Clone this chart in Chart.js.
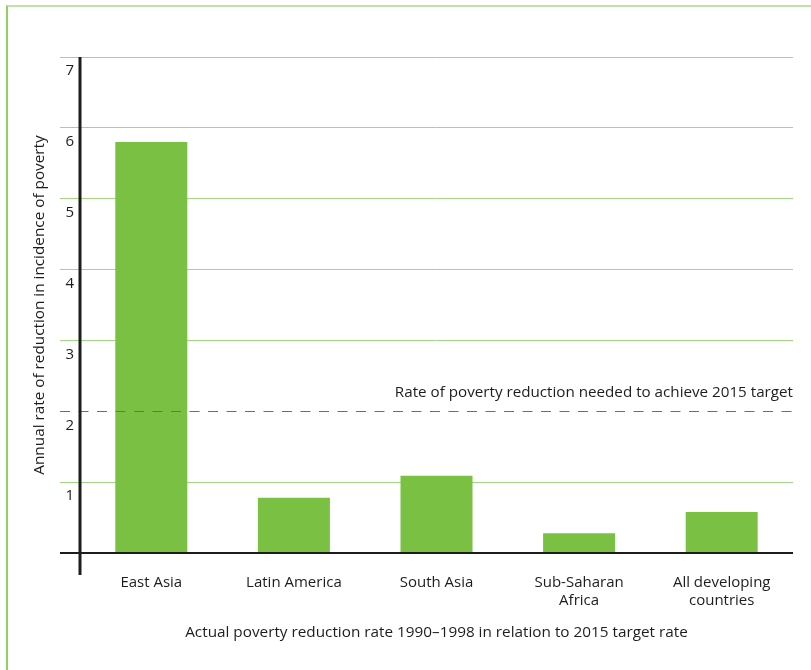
<!DOCTYPE html>
<html>
<head>
<meta charset="utf-8">
<script src="https://cdn.jsdelivr.net/npm/chart.js@4.4.1/dist/chart.umd.min.js"></script>
<style>
  html, body { margin: 0; padding: 0; background: #fff; }
  #wrap { position: relative; width: 811px; height: 670px; overflow: hidden; }
  #frame { position: absolute; left: 6px; top: 5px; right: -2px; bottom: -2px;
           border-left: 2px solid #8fd05e; border-top: 2px solid #bfe3a5; }
  canvas { position: absolute; left: 0; top: 0; }
</style>
</head>
<body>
<div id="wrap">
  <div id="frame"></div>
  <canvas id="povertyChart" width="811" height="670"></canvas>
</div>
<script>
const regions = [
    ['East Asia'],
    ['Latin America'],
    ['South Asia'],
    ['Sub-Saharan', 'Africa'],
    ['All developing', 'countries']
];
const reductionRates = [5.8, 0.78, 1.09, 0.28, 0.58];
const targetRate = 2;
const targetLabel = 'Rate of poverty reduction needed to achieve 2015 target';
const yAxisMax = 7;

const textColor = '#1f1c1d';
const barGreen = '#7ac143';
const gridGreen = '#a3d585';
const fontFamily = '"Open Sans", "Noto Sans", sans-serif';

// axis lines, dashed target line and its caption
const axisExtras = {
    id: 'axisExtras',
    afterDatasetsDraw(chart) {
        const {ctx, chartArea, scales} = chart;
        const tickLen = chart.options.scales.y.grid.tickLength;
        const ty = Math.round(scales.y.getPixelForValue(targetRate)) + 0.5;
        ctx.save();

        ctx.strokeStyle = '#6d6e71';
        ctx.lineWidth = 1;
        ctx.setLineDash([10, 8.5]);
        ctx.beginPath();
        ctx.moveTo(chartArea.left - tickLen, ty);
        ctx.lineTo(chartArea.right, ty);
        ctx.stroke();
        ctx.setLineDash([]);

        ctx.fillStyle = textColor;
        ctx.font = '15.2px ' + fontFamily;
        ctx.textAlign = 'right';
        ctx.textBaseline = 'middle';
        ctx.fillText(targetLabel, chartArea.right, ty - 19);

        ctx.strokeStyle = textColor;
        ctx.lineWidth = 2;
        ctx.beginPath();
        ctx.moveTo(chartArea.left - tickLen, chartArea.bottom);
        ctx.lineTo(chartArea.right, chartArea.bottom);
        ctx.stroke();

        ctx.lineWidth = 3;
        ctx.beginPath();
        ctx.moveTo(chartArea.left, chartArea.top);
        ctx.lineTo(chartArea.left, chartArea.bottom + 22);
        ctx.stroke();
        ctx.restore();
    }
};

new Chart(document.getElementById('povertyChart'), {
    type: 'bar',
    data: {
        labels: regions,
        datasets: [{
            data: reductionRates,
            backgroundColor: barGreen,
            borderWidth: 0,
            barPercentage: 0.505,
            categoryPercentage: 1
        }]
    },
    options: {
        responsive: false,
        animation: false,
        devicePixelRatio: 1,
        layout: { padding: { top: 57, right: 18, bottom: 0, left: 0 } },
        plugins: {
            legend: { display: false },
            tooltip: { enabled: false }
        },
        scales: {
            x: {
                grid: { display: false, drawTicks: false },
                border: { display: false },
                ticks: {
                    color: textColor,
                    padding: 21,
                    maxRotation: 0,
                    font: { family: fontFamily, size: 15, lineHeight: 1.2 }
                },
                title: {
                    display: true,
                    text: 'Actual poverty reduction rate 1990\u20131998 in relation to 2015 target rate',
                    color: textColor,
                    padding: { top: 0, bottom: 28 },
                    font: { family: fontFamily, size: 15.3, lineHeight: 1.2 }
                },
                afterFit(scale) { scale.height = 117; }
            },
            y: {
                min: 0,
                max: yAxisMax,
                grid: {
                    tickLength: 20,
                    lineWidth: 1,
                    color: c => (c.tick.value === 0 || c.tick.value === targetRate) ? 'rgba(0,0,0,0)' : gridGreen
                },
                border: { display: false },
                ticks: {
                    stepSize: 1,
                    color: textColor,
                    padding: -14,
                    labelOffset: 14,
                    font: { family: fontFamily, size: 15 },
                    callback: v => v === 0 ? '' : v
                },
                title: {
                    display: true,
                    text: 'Annual rate of reduction in incidence of poverty',
                    color: textColor,
                    padding: { top: 30, bottom: 0 },
                    font: { family: fontFamily, size: 15.3, lineHeight: 1.2 }
                },
                afterFit(scale) { scale.width = 80; }
            }
        }
    },
    plugins: [axisExtras]
});
</script>
</body>
</html>
